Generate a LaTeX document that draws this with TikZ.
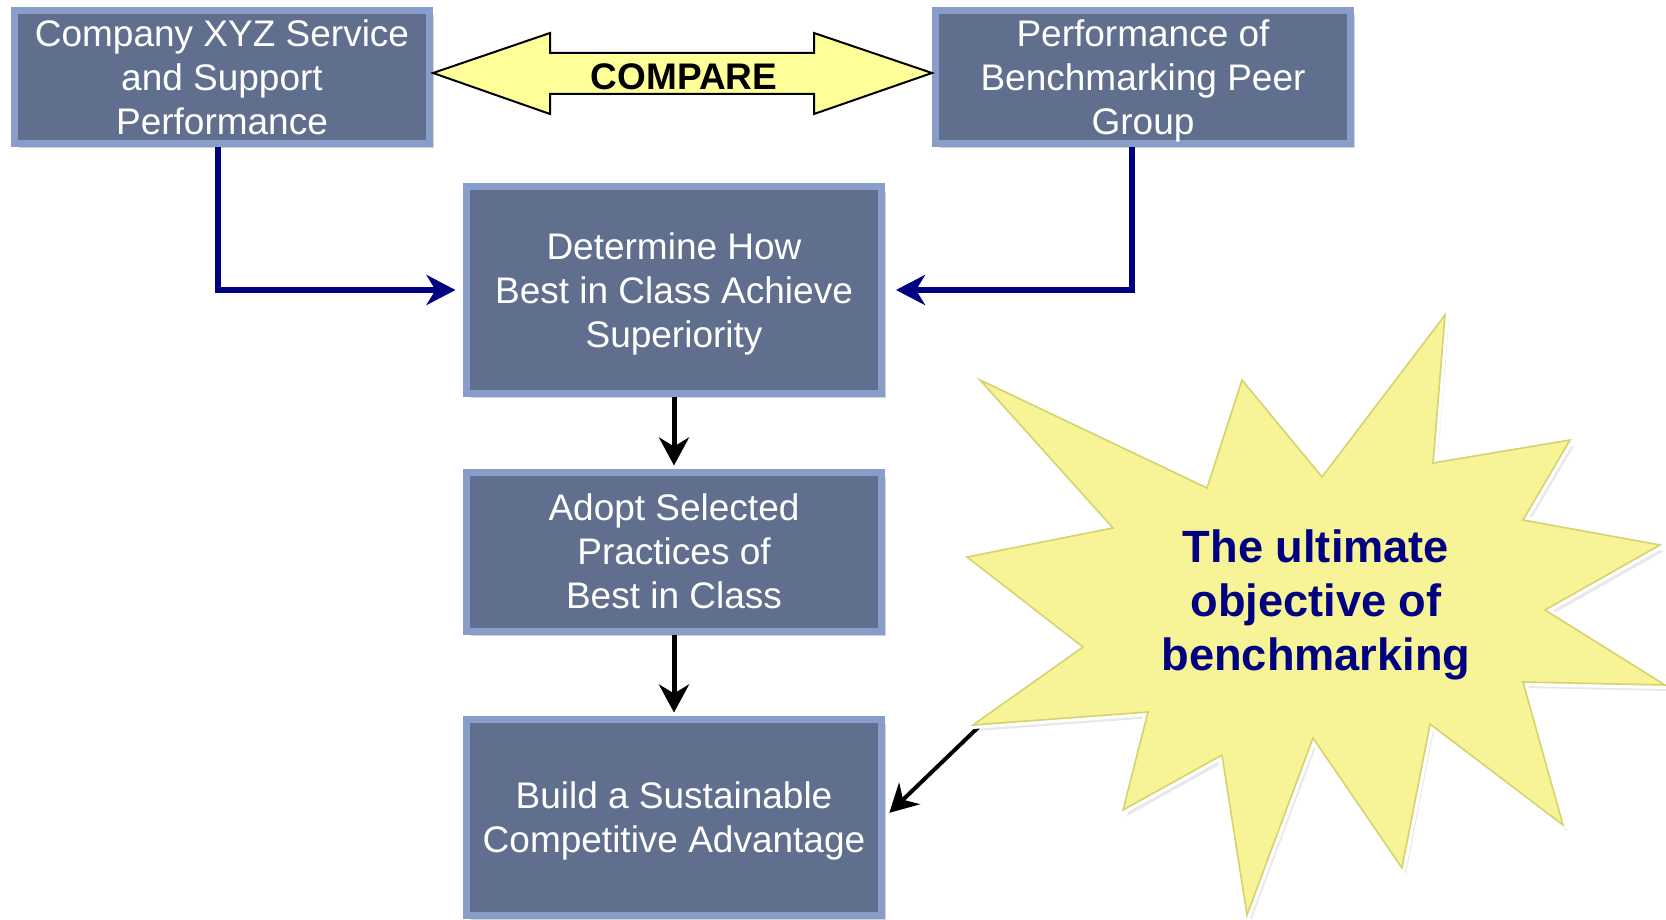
\documentclass[tikz,border=0pt]{standalone}
\usepackage{fontspec}
\setmainfont{Liberation Sans}
\usepackage{xcolor}
\usetikzlibrary{positioning, arrows.meta, shadows}

\definecolor{boxfill}{RGB}{96,111,141}
\definecolor{boxedge}{RGB}{137,157,203}
\definecolor{cmpfill}{RGB}{255,255,153}
\definecolor{burstfill}{RGB}{246,244,150}
\definecolor{burstedge}{RGB}{214,210,110}
\definecolor{navyline}{RGB}{0,0,128}

\tikzset{
    procbox/.style={draw=boxedge, line width=3.5pt, fill=boxfill, text=white, align=center,
        minimum width=207.5pt, inner sep=0pt, font=\fontsize{18.5}{22}\selectfont, text depth=-0.8pt,
        drop shadow={shadow xshift=2pt, shadow yshift=-2.5pt, opacity=.35}},
    linkarrow/.style={navyline, line width=3pt, -{Stealth[length=14.5pt, width=15pt, inset=4.5pt]}},
    steparrow/.style={black, line width=2.5pt, -{Stealth[length=14pt, width=15pt, inset=4.5pt]}}
}

% outline of the burst, in pixels of the picture
\newcommand{\burstoutline}{(980,380) -- (1207,488) -- (1242,380) -- (1322,477) -- (1445,315)
    -- (1433,463) -- (1570,440) -- (1523,520) -- (1660,545) -- (1545,610) -- (1665,685)
    -- (1523,682) -- (1563,825) -- (1430,724) -- (1402,868) -- (1313,738) -- (1247,915)
    -- (1222,755) -- (1123,810) -- (1148,712) -- (973,725) -- (1083,647) -- (967,557)
    -- (1113,528) -- cycle}

\begin{document}
\begin{tikzpicture}[x=0.5pt, y=-0.5pt]
        \useasboundingbox (0,0) rectangle (1666,920);

        % Define the nodes
        \node[procbox, minimum height=66.5pt] (comp) at (222,77) {Company XYZ Service\\and Support\\Performance};
        \node[procbox, minimum height=66.5pt, right=249.5pt of comp] (peer) {Performance of\\Benchmarking Peer\\Group};

        \node[procbox, minimum height=103pt] (howbest) at (674,290) {Determine How\\Best in Class Achieve\\Superiority};
        \node[procbox, minimum height=79.5pt, below=36pt of howbest] (adopt) {Adopt Selected\\Practices of\\Best in Class};
        \node[procbox, minimum height=98pt, below=40.5pt of adopt] (build) {Build a Sustainable\\Competitive Advantage};

        % Compare arrow
        \draw[line width=1pt, fill=cmpfill] (433,73) -- (550,33) -- (550,53) -- (814,53) -- (814,33) -- (932,73)
            -- (814,114) -- (814,94) -- (550,94) -- (550,114) -- cycle;
        \node[font=\bfseries\fontsize{18.5}{22}\selectfont] (cmptext) at (684,77) {COMPARE};

        % Define the edges
        \draw[linkarrow, shorten >=3.75pt] ([xshift=-2pt]comp.south) |- (howbest.west);
        \draw[linkarrow, shorten >=5.5pt] ([xshift=-5.5pt]peer.south) |- (howbest.east);

        \draw[steparrow, shorten >=1.5pt] (howbest) -- (adopt);
        \draw[steparrow, shorten >=1.5pt] (adopt) -- (build);

        % Burst with the goal
        \coordinate (burstfoot) at (990,716);
        \draw[black, line width=2pt, -{Stealth[length=14pt, width=15pt, inset=4.5pt]}, shorten >=3pt] (burstfoot) -- (build.east);
        \path[drop shadow={shadow xshift=2pt, shadow yshift=-3pt, opacity=.18},
            preaction={draw=white, line width=4pt, line join=round},
            fill=burstfill, draw=burstedge, line width=.8pt] \burstoutline;
        \node[align=center, text=navyline, font=\bfseries\fontsize{22.6}{27}\selectfont] (goal) at (1316,605) {The ultimate\\objective of\\benchmarking};
    \end{tikzpicture}
\end{document}
